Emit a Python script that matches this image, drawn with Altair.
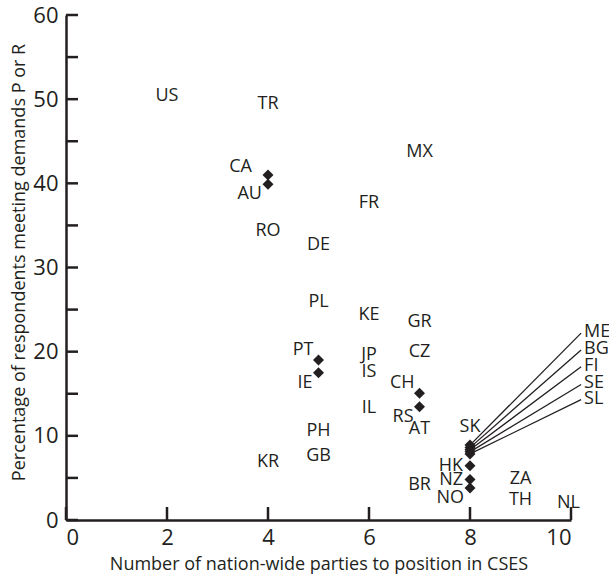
import altair as alt
import pandas as pd

# ---- data ----
# countries shown by their code only
lab_codes = ["US", "TR", "MX", "FR", "RO", "DE", "PL", "KE", "GR", "CZ", "JP",
             "IS", "IL", "AT", "PH", "GB", "KR", "SK", "BR", "ZA", "TH", "NL"]
lab_x = [2, 4, 7, 6, 4, 5, 5, 6, 7, 7, 6, 6, 6, 7, 5, 5, 4, 8, 7, 9, 9, 9.95]
lab_y = [50.4, 49.45, 43.7, 37.7, 34.3, 32.7, 25.9, 24.35, 23.55, 20.0, 19.6,
         17.6, 13.3, 10.8, 10.6, 7.6, 6.85, 11.1, 4.15, 4.85, 2.35, 2.05]

# countries shown as a diamond marker with a label beside it
pt_codes = ["CA", "AU", "PT", "IE", "CH", "RS", "HK", "NZ", "NO"]
pt_x = [4, 4, 5, 5, 7, 7, 8, 8, 8]
pt_y = [41.0, 39.9, 19.0, 17.5, 15.05, 13.45, 6.45, 4.8, 3.8]
pt_clock = [10, 8, 11, 8, 11, 8, 9, 9, 8]   # label clock position

# cluster at 8 parties, labelled through leader lines
cl_codes = ["ME", "BG", "FI", "SE", "SL"]
cl_x = [8, 8, 8, 8, 8]
cl_y = [8.9, 8.6, 8.35, 8.1, 7.85]
cl_label_x = [10.2, 10.2, 10.2, 10.2, 10.2]
cl_label_y = [22.2, 20.2, 18.2, 16.1, 14.3]

x_ticks = [0, 2, 4, 6, 8, 10]
y_ticks = [0, 5, 10, 15, 20, 25, 30, 35, 40, 45, 50, 55, 60]
y_labels = [0, 10, 20, 30, 40, 50, 60]

# ---- styling ----
W, H = 505, 505
FONT = "Open Sans"
COL = "#231f20"
LBL = 18

xs = alt.Scale(domain=[0, 10], nice=False, zero=False)
ys = alt.Scale(domain=[0, 60], nice=False, zero=False)

x_axis = alt.Axis(values=x_ticks, ticks=False, grid=False, domain=True,
                  domainColor=COL, domainWidth=2.5, labelFont=FONT,
                  labelFontSize=22, labelColor=COL, labelPadding=7,
                  title="Number of nation-wide parties to position in CSES",
                  titleFont=FONT, titleFontSize=18, titleFontWeight="normal",
                  titleColor=COL, titleY=44, titleBaseline="middle")
y_axis = alt.Axis(values=y_labels, ticks=False, grid=False, domain=True,
                  domainColor=COL, domainWidth=2.5, labelFont=FONT,
                  labelFontSize=22, labelColor=COL, labelPadding=8,
                  title="Percentage of respondents meeting demands P or R",
                  titleFont=FONT, titleFontSize=18, titleFontWeight="normal",
                  titleColor=COL, titleX=-47, titleY=247, titleAngle=-90,
                  titleAlign="center", titleBaseline="middle")


def X(field):
    return alt.X(field, scale=xs, axis=x_axis)


def Y(field):
    return alt.Y(field, scale=ys, axis=y_axis)


df_lab = pd.DataFrame({"code": lab_codes, "x": lab_x, "y": lab_y})
labels = alt.Chart(df_lab).mark_text(
    font=FONT, fontSize=LBL, color=COL, align="center", baseline="middle"
).encode(x=X("x:Q"), y=Y("y:Q"), text="code:N")

df_pt = pd.DataFrame({"code": pt_codes, "x": pt_x, "y": pt_y, "clock": pt_clock})
df_cl = pd.DataFrame({"code": cl_codes, "x": cl_x, "y": cl_y,
                      "lx": cl_label_x, "ly": cl_label_y})

diamonds = alt.Chart(pd.concat([df_pt[["x", "y"]], df_cl[["x", "y"]]])).mark_point(
    shape="diamond", filled=True, size=120, color=COL, opacity=1
).encode(x=X("x:Q"), y=Y("y:Q"))

offsets = {10: (-16, -8), 11: (-5, -10.5), 8: (-6, 10), 9: (-7, 0)}
pt_layers = []
for clock, (dx, dy) in offsets.items():
    sub = df_pt[df_pt["clock"] == clock]
    pt_layers.append(
        alt.Chart(sub).mark_text(font=FONT, fontSize=LBL, color=COL,
                                 align="right", baseline="middle", dx=dx, dy=dy)
        .encode(x=X("x:Q"), y=Y("y:Q"), text="code:N")
    )

leaders = alt.Chart(df_cl).mark_rule(color=COL, strokeWidth=1.3).encode(
    x=X("x:Q"), y=Y("y:Q"), x2="lx:Q", y2="ly:Q",
)
cl_text = alt.Chart(df_cl).mark_text(
    font=FONT, fontSize=LBL, color=COL, align="left", baseline="middle", dx=3, dy=-1
).encode(x=X("lx:Q"), y=Y("ly:Q"), text="code:N")

ytick = alt.Chart(pd.DataFrame({"v": y_ticks})).mark_rule(color=COL, strokeWidth=2.5).encode(
    y=Y("v:Q"), x=alt.value(0), x2=alt.value(12)
)
xtick = alt.Chart(pd.DataFrame({"v": x_ticks})).mark_rule(color=COL, strokeWidth=2.5).encode(
    x=X("v:Q"), y=alt.value(H), y2=alt.value(H - 13)
)

chart = alt.layer(labels, diamonds, *pt_layers, leaders, cl_text, ytick, xtick).properties(
    width=W, height=H,
    autosize=alt.AutoSizeParams(type="none"),
    padding={"left": 66, "top": 15, "right": 38, "bottom": 59},
).configure_view(stroke=None)

chart.save("out.html", embed_options={"renderer": "svg", "actions": False})
